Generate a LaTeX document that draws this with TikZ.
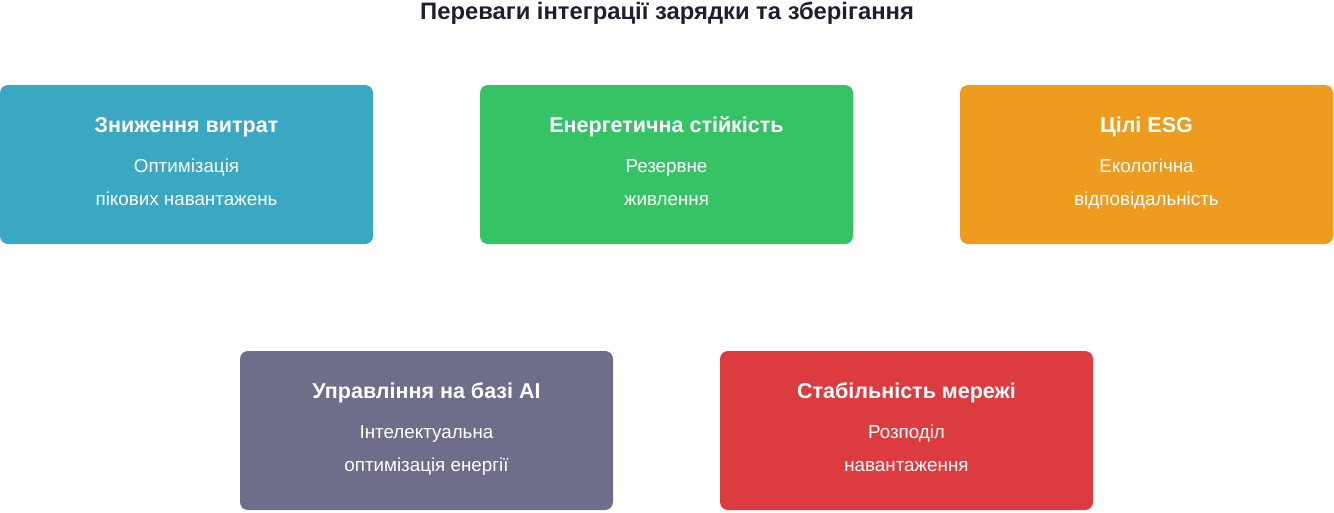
\documentclass[tikz,border=0pt]{standalone}
\usepackage{fontspec}
\setmainfont{Liberation Sans}
\usetikzlibrary{positioning, calc}
\definecolor{titlecol}{HTML}{1E1E2E}
\definecolor{costcol}{HTML}{3AA8C2}
\definecolor{resilcol}{HTML}{36C366}
\definecolor{esgcol}{HTML}{ED9C1F}
\definecolor{aicol}{HTML}{6E6E8A}
\definecolor{gridcol}{HTML}{DC3C40}

\begin{document}
\begin{tikzpicture}[x=1pt, y=-1pt,
    card/.style={rounded corners=8pt, minimum width=373pt, minimum height=159pt, inner sep=0pt, draw=none},
    cardhead/.style={font=\fontsize{21.5}{25}\selectfont\bfseries, text=white, anchor=base, inner sep=0pt},
    cardline/.style={font=\fontsize{18.8}{22}\selectfont, text=white, anchor=base, inner sep=0pt}]
    \useasboundingbox (0,0) rectangle (1334,512);

    % Заголовок
    \node[font=\fontsize{23.8}{28}\selectfont\bfseries, text=titlecol, anchor=base, inner sep=0pt] (title) at (667,19) {Переваги інтеграції зарядки та зберігання};

    % Картки переваг
    \foreach \nm/\cx/\cy/\col/\head/\la/\lb in {
        cost/186.5/164.5/costcol/Зниження витрат/Оптимізація/пікових навантажень,
        resil/666.5/164.5/resilcol/Енергетична стійкість/Резервне/живлення,
        esg/1146.5/164.5/esgcol/Цілі ESG/Екологічна/відповідальність,
        ai/426.5/430.5/aicol/Управління на базі AI/Інтелектуальна/оптимізація енергії,
        grid/906.5/430.5/gridcol/Стабільність мережі/Розподіл/навантаження} {
        \node[card, fill=\col] (\nm) at (\cx,\cy) {};
        \node[cardhead] (\nm-head) at ($(\nm.center)+(0,-32.5)$) {\head};
        \node[cardline] (\nm-la) at ($(\nm.center)+(0,8)$) {\la};
        \node[cardline] (\nm-lb) at ($(\nm.center)+(0,40.5)$) {\lb};
    }
\end{tikzpicture}
\end{document}
